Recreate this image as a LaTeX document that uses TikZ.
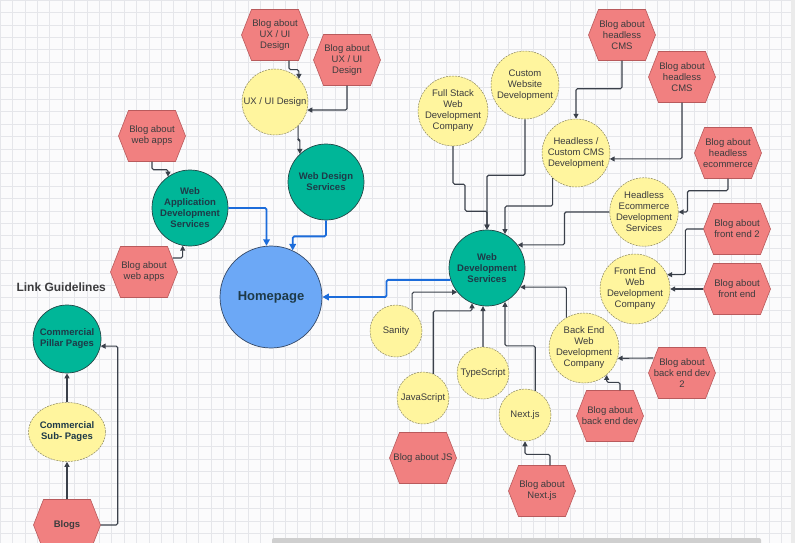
\documentclass[tikz,border=0pt]{standalone}
\usepackage{fontspec}
\setmainfont{Liberation Sans}
\usetikzlibrary{arrows.meta,shapes.geometric}

\definecolor{canvas}{RGB}{251,251,252}
\definecolor{gridline}{RGB}{229,230,234}
\definecolor{blogfill}{RGB}{241,128,128}
\definecolor{blogedge}{RGB}{185,90,92}
\definecolor{ideafill}{RGB}{255,245,158}
\definecolor{ideaedge}{RGB}{140,135,95}
\definecolor{servfill}{RGB}{0,182,152}
\definecolor{servedge}{RGB}{35,72,72}
\definecolor{homefill}{RGB}{108,168,246}
\definecolor{homeedge}{RGB}{52,72,102}
\definecolor{homelink}{RGB}{28,108,218}
\definecolor{linkcol}{RGB}{58,64,74}
\definecolor{inktext}{RGB}{60,60,62}
\definecolor{servtext}{RGB}{30,58,72}

\begin{document}
\begin{tikzpicture}[x=1pt,y=-1pt,font=\fontsize{9.5}{11}\selectfont,
  blog/.style={rectangle,inner sep=0pt,minimum width=67pt,minimum height=51pt,align=center,text=inktext},
  idea/.style={circle,draw=ideaedge,dash pattern=on 2pt off 1pt,line width=0.5pt,fill=ideafill,
    inner sep=0pt,minimum size=68pt,align=center,text=inktext},
  smallidea/.style={idea,minimum size=52pt},
  service/.style={circle,draw=servedge,line width=0.7pt,fill=servfill,inner sep=0pt,minimum size=76pt,
    align=center,text=servtext,font=\fontsize{9.5}{11}\selectfont\bfseries},
  conn/.style={draw=linkcol,line width=1.1pt,rounded corners=1.5pt,-{Triangle[length=5pt,width=5pt]}},
  homeconn/.style={draw=homelink,line width=1.8pt,rounded corners=1.5pt,-{Triangle[length=6.5pt,width=6.5pt]}}]

\clip (0,0) rectangle (795,543);

% ---- canvas and grid ----
\fill[canvas] (0,0) rectangle (795,543);
\foreach \g in {0,12.4,...,795} \draw[gridline,line width=0.5pt] (\g,0) -- (\g,543);
\foreach \g in {0,12.4,...,543} \draw[gridline,line width=0.5pt] (0,\g) -- (795,\g);

% ---- blog hexagons ----
\foreach \n/\x/\y/\t in {
    bux1/275/35/{Blog about\\UX / UI\\Design},
    bux2/347/60/{Blog about\\UX / UI\\Design},
    bwa1/152/136/{Blog about\\web apps},
    bwa2/144/272/{Blog about\\web apps},
    blogs/67/525/{\textbf{Blogs}},
    bcms1/622/35/{Blog about\\headless\\CMS},
    bcms2/682/77/{Blog about\\headless\\CMS},
    bhec/728/153/{Blog about\\headless\\ecommerce},
    bfe2/737/229/{Blog about\\front end 2},
    bfe/737/289/{Blog about\\front end},
    bbe2/682/373/{Blog about\\back end dev\\2},
    bbe/610/416/{Blog about\\back end dev},
    bjs/423/458/{Blog about JS},
    bnx/542/491/{Blog about\\Next.js}}{
  \filldraw[fill=blogfill,draw=blogedge,line width=0.6pt]
    (\x-33.5,\y) -- (\x-23.5,\y-25.5) -- (\x+23.5,\y-25.5) -- (\x+33.5,\y)
    -- (\x+23.5,\y+25.5) -- (\x-23.5,\y+25.5) -- cycle;
  \node[blog] (\n) at (\x,\y) {\t};
}

% ---- service pages ----
\node[service] (wads) at (190,208) {Web\\Application\\Development\\Services};
\node[service] (wds)  at (326,182) {Web Design\\Services};
\node[service] (wdev) at (487,268) {Web\\Development\\Services};
\node[circle,draw=homeedge,line width=0.7pt,fill=homefill,minimum size=102pt,text=servtext,
  font=\fontsize{13}{15}\selectfont\bfseries] (home) at (271,297) {Homepage};

% ---- sub pages ----
\node[idea,minimum size=66pt] (ux) at (275,102) {UX / UI Design};
\node[idea] (fs)   at (453,111) {Full Stack\\Web\\Development\\Company};
\node[idea] (cwd)  at (525,85)  {Custom\\Website\\Development};
\node[idea] (hcms) at (576,153) {Headless /\\Custom CMS\\Development};
\node[idea] (hec)  at (644,212) {Headless\\Ecommerce\\Development\\Services};
\node[idea] (fe)   at (635,289) {Front End\\Web\\Development\\Company};
\node[idea] (bend) at (584,348) {Back End\\Web\\Development\\Company};
\node[smallidea] (san) at (396,331) {Sanity};
\node[smallidea] (js)  at (423,398) {JavaScript};
\node[smallidea] (ts)  at (483,373) {TypeScript};
\node[smallidea] (nx)  at (525,415) {Next.js};

% ---- link guidelines ----
\node[anchor=west,text=inktext,font=\fontsize{12}{14}\selectfont\bfseries] (guide) at (13,287) {Link Guidelines};
\node[service,minimum size=68pt] (pillar) at (67,339) {Commercial\\Pillar Pages};
\node[idea,ellipse,minimum width=67pt,minimum height=59pt,text=servtext,
  font=\fontsize{9.5}{11}\selectfont\bfseries] (sub) at (67,432) {Commercial\\Sub- Pages};

% ---- links to the homepage ----
\draw[homeconn] (wads.east) -| (home.95);
\draw[homeconn] (wds.south) -- ++(0,16) -| (home.65);
\draw[homeconn] (wdev.198) -- ++(-64,0) |- (home.east);

% ---- design and app links ----
\draw[conn] ([xshift=14pt]bux1.south) -- ++(0,9) -| (ux.44);
\draw[conn] (bux2.south) |- (ux.-14);
\draw[conn] (ux.-46) -- ++(0,14) -| (wds.133);
\draw[conn] (bwa1.south) -- ++(0,8) -| (wads.125);
\draw[conn] ([xshift=-5pt,yshift=14pt]bwa2.east) -| (wads.-101);

% ---- development links ----
\draw[conn] (fs.south) -- ++(0,38) -- ++(12,0) -- ++(0,27) -| (wdev.north);
\draw[conn] (cwd.south) -- ++(0,56) -| (wdev.north);
\draw[conn] (hcms.227) -- ++(0,28) -| (wdev.62);
\draw[conn] (hec.west) -- ++(-45,0) |- (wdev.37);
\draw[conn] (bend.120) |- (wdev.-30);
\draw[conn] (san.52) |- (wdev.219);
\draw[conn] (js.67) -- ++(0,-63) -| (wdev.247);
\draw[conn] (ts.north) -- (wdev.264);
\draw[conn] (nx.67) -- ++(0,-45) -| (wdev.-62);

% ---- blog links ----
\draw[conn] (bcms1.south) -- ++(0,28) -| (hcms.north);
\draw[conn] (bcms2.south) |- (hcms.-10);
\draw[conn] (bhec.south) -- ++(0,12) -| ([xshift=9pt]hec.east) -- (hec.east);
\draw[conn] (bfe2.west) -- ++(-18,0) |- (fe.24);
\draw[conn] (bfe.west) -- (fe.east);
\draw[conn] ([xshift=5pt,yshift=15pt]bbe2.west) -- (bend.-17);
\draw[conn] ([xshift=10pt]bbe.north) -- ++(0,-8) -| (bend.-50);
\draw[conn] ([xshift=8pt]bnx.north) -- ++(0,-11) -| (nx.south);

% ---- guideline links ----
\draw[conn] (blogs.north) -- (sub.south);
\draw[conn] (sub.north) -- (pillar.south);
\draw[conn] (blogs.east) -- ++(17,0) |- (pillar.-12);

% ---- scroll bars ----
\fill[gray!38,rounded corners=2pt] (272,538) rectangle (761,546);
\fill[gray!16] (791,0) rectangle (795,543);

\end{tikzpicture}
\end{document}
